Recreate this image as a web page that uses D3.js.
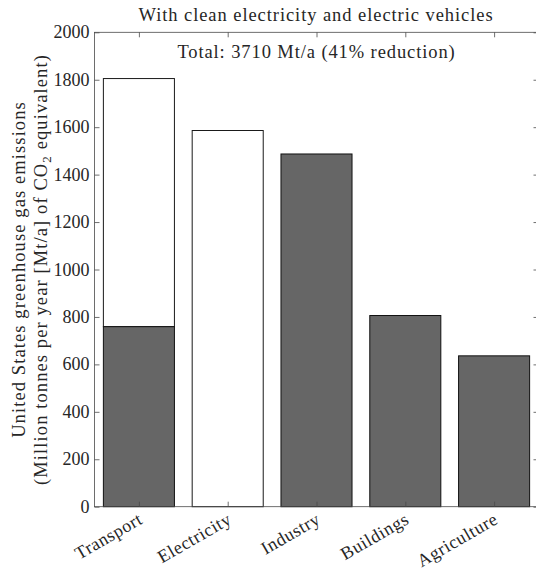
<!DOCTYPE html>
<html>
<head>
<meta charset="utf-8">
<script src="https://cdn.jsdelivr.net/npm/d3@7"></script>
<style>
  html, body { margin: 0; padding: 0; background: #fff; }
  svg { display: block; }
  text { font-family: "Liberation Serif", "DejaVu Serif", serif; fill: #262626; }
</style>
</head>
<body>
<svg id="chart" width="536" height="568"></svg>
<script>
// Sector emissions, Mt CO2e per year
const categories = ["Transport", "Electricity", "Industry", "Buildings", "Agriculture"];
// Emissions remaining after clean electricity and electric vehicles
const remaining = [759, 0, 1487, 806, 636];
// Emissions removed (shown as open bars stacked on top)
const removed = [1046, 1586, 0, 0, 0];
const yTicks = [0, 200, 400, 600, 800, 1000, 1200, 1400, 1600, 1800, 2000];

const titleText = "With clean electricity and electric vehicles";
const noteText = "Total: 3710 Mt/a (41% reduction)";

const svg = d3.select("#chart");
const plotL = 94.5, plotR = 538.5, plotT = 32.3, plotB = 506.7;

const x = d3.scaleLinear().domain([0.5, 5.5]).range([plotL, plotR]);
const y = d3.scaleLinear().domain([0, 2000]).range([plotB, plotT]);
const barW = 0.8;

const data = categories.map((c, i) => ({
  name: c, pos: i + 1, low: remaining[i], high: remaining[i] + removed[i]
}));

// Open bars for the removed share (full original height)
svg.append("g").selectAll("rect")
  .data(data.filter(d => d.high > d.low))
  .join("rect")
  .attr("x", d => x(d.pos - barW / 2))
  .attr("width", d => x(d.pos + barW / 2) - x(d.pos - barW / 2))
  .attr("y", d => y(d.high))
  .attr("height", d => y(d.low) - y(d.high))
  .attr("fill", "#ffffff")
  .attr("stroke", "#1a1a1a")
  .attr("stroke-width", 1);

// Filled bars for remaining emissions
svg.append("g").selectAll("rect")
  .data(data.filter(d => d.low > 0))
  .join("rect")
  .attr("x", d => x(d.pos - barW / 2))
  .attr("width", d => x(d.pos + barW / 2) - x(d.pos - barW / 2))
  .attr("y", d => y(d.low))
  .attr("height", d => y(0) - y(d.low))
  .attr("fill", "#666666")
  .attr("stroke", "#111111")
  .attr("stroke-width", 1);

// Box axes with inward ticks
const tickLen = 5;
const axisColor = "#4a4a4a";
const yLeft = d3.axisRight(y).tickValues(yTicks).tickSize(tickLen).tickFormat("");
const yRight = d3.axisLeft(y).tickValues(yTicks).tickSize(tickLen).tickFormat("");
const xBottom = d3.axisTop(x).tickValues([1, 2, 3, 4, 5]).tickSize(tickLen).tickFormat("");
const xTop = d3.axisBottom(x).tickValues([1, 2, 3, 4, 5]).tickSize(tickLen).tickFormat("");

function styleAxis(g) {
  g.selectAll("path, line").attr("stroke", axisColor).attr("stroke-width", 0.8);
  g.select(".domain").remove();
}
svg.append("g").attr("transform", `translate(${plotL},0)`).call(yLeft).call(styleAxis);
svg.append("g").attr("transform", `translate(${plotR},0)`).call(yRight).call(styleAxis);
svg.append("g").attr("transform", `translate(0,${plotB})`).call(xBottom).call(styleAxis);
svg.append("g").attr("transform", `translate(0,${plotT})`).call(xTop).call(styleAxis);

// Frame lines
svg.append("rect")
  .attr("x", plotL).attr("y", plotT)
  .attr("width", plotR - plotL).attr("height", plotB - plotT)
  .attr("fill", "none").attr("stroke", axisColor).attr("stroke-width", 0.8);

// Y tick labels
svg.append("g").selectAll("text")
  .data(yTicks)
  .join("text")
  .attr("x", plotL - 5)
  .attr("y", d => y(d) + 6)
  .attr("text-anchor", "end")
  .attr("font-size", 18)
  .text(d => d);

// X tick labels, rotated
svg.append("g").selectAll("text")
  .data(data)
  .join("text")
  .attr("transform", d => `translate(${x(d.pos) + 5},${plotB + 16}) rotate(-30)`)
  .attr("text-anchor", "end")
  .attr("font-size", 18)
  .attr("letter-spacing", 0.6)
  .text(d => d.name);

// Title
svg.append("text")
  .attr("x", (plotL + plotR) / 2 - 0.5)
  .attr("y", 20.5)
  .attr("text-anchor", "middle")
  .attr("font-size", 18.5)
  .attr("letter-spacing", 0.93)
  .text(titleText);

// Total annotation
svg.append("text")
  .attr("x", (plotL + plotR) / 2)
  .attr("y", 58)
  .attr("text-anchor", "middle")
  .attr("font-size", 18.5)
  .attr("letter-spacing", 0.9)
  .text(noteText);

// Y axis label (two lines)
const cy = (plotT + plotB) / 2;
svg.append("text")
  .attr("transform", `translate(25,${cy}) rotate(-90)`)
  .attr("text-anchor", "middle")
  .attr("font-size", 18.5)
  .attr("letter-spacing", 1.1)
  .text("United States greenhouse gas emissions");
const l2 = svg.append("text")
  .attr("transform", `translate(46.5,${cy}) rotate(-90)`)
  .attr("text-anchor", "middle")
  .attr("font-size", 18.5)
  .attr("letter-spacing", 1.1);
l2.append("tspan").text("(Million tonnes per year [Mt/a] of CO");
l2.append("tspan").attr("font-size", 13).attr("dy", 4).text("2");
l2.append("tspan").attr("dy", -4).text(" equivalent)");
</script>
</body>
</html>
